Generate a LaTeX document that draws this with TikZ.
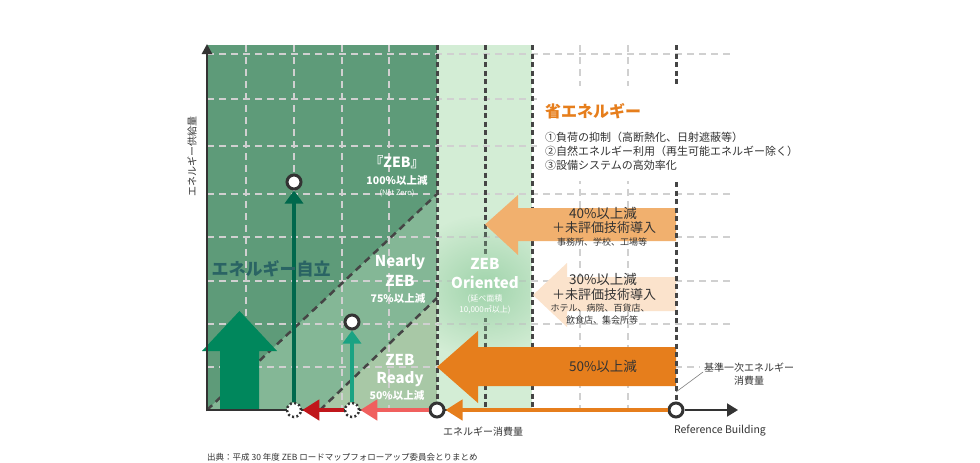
\documentclass[tikz,border=0pt]{standalone}
\usepackage{fontspec}
\setmainfont{Noto Sans CJK JP}
\usetikzlibrary{arrows.meta,calc,fadings}
\definecolor{zebdark}{HTML}{5E9B79}
\definecolor{zebmid}{HTML}{84B796}
\definecolor{zeblight}{HTML}{A8C8A6}
\definecolor{zebband}{HTML}{D3EDD5}
\definecolor{gridlt}{HTML}{D0D0D0}
\definecolor{griddk}{HTML}{454545}
\definecolor{bigup}{HTML}{00875C}
\definecolor{upline}{HTML}{00684C}
\definecolor{zteal}{HTML}{1AA383}
\definecolor{zred}{HTML}{C0161B}
\definecolor{zpink}{HTML}{F0605E}
\definecolor{zorange}{HTML}{E67E1C}
\definecolor{zorangeL}{HTML}{F1B06E}
\definecolor{zorangeXL}{HTML}{FBE3CC}
\definecolor{txt}{HTML}{333333}
\definecolor{jiritsu}{HTML}{2A6464}
\definecolor{halo}{HTML}{8FCB9D}
\tikzfading[name=softglow, inner color=transparent!25, outer color=transparent!100]
\tikzset{
  fs/.style={font=\fontsize{#1}{#1}\selectfont},
  fsb/.style={font=\fontsize{#1}{#1}\selectfont\bfseries},
  ltgrid/.style={draw=gridlt, line width=1.3pt, dash pattern=on 7pt off 5pt},
  dkgrid/.style={draw=griddk, line width=3pt, dash pattern=on 5pt off 3.5pt},
  diagline/.style={draw=griddk, line width=2.5pt, dash pattern=on 7pt off 5pt},
  ringnode/.style={circle, draw=txt, line width=3pt, fill=white, minimum size=14pt, inner sep=0pt},
  dotnode/.style={circle, draw=txt, line width=2.5pt, dash pattern=on 2pt off 2.4pt, fill=white, minimum size=14pt, inner sep=0pt},
  hconn/.style={line width=4.5pt, -{Triangle[length=17pt,width=20pt]}},
  vconn/.style={line width=3.5pt, -{Triangle[length=13pt,width=18pt]}},
  wlabel/.style={text=white, align=center},
  dlabel/.style={text=txt, align=center},
}
\begin{document}
\begin{tikzpicture}[x=1pt,y=-1pt, every node/.style={inner sep=0pt}]
\useasboundingbox (0,0) rectangle (980,463);
\fill[white] (0,0) rectangle (980,463);
% regions
\fill[zebdark] (207,45) rectangle (437,410);
\fill[zebmid] (207,410) -- (437,194) -- (437,410) -- cycle;
\fill[zeblight] (320,410) -- (437,298) -- (437,410) -- cycle;
\fill[zebband] (437,45) rectangle (532,410);
% light grid
\foreach \x in {246,294,342,389,580,628} \draw[ltgrid] (\x,45) -- (\x,410);
\foreach \y in {54,99,146,194,237,281,324} \draw[ltgrid] (207,\y) -- (733,\y);
\draw[ltgrid] (207,367) -- (700,367);
% diagonals
\draw[diagline] (207,410) -- (437,194);
\draw[diagline] (320,410) -- (437,298);
% dark dashed verticals
\foreach \x in {437,485,532} \draw[dkgrid] (\x,45) -- (\x,410);
% soft glow behind ZEB Oriented
\fill[zebband] (462,255) rectangle (508,318);
\begin{scope}
\clip (439,45) rectangle (530,410);
\fill[halo, path fading=softglow] (485,287) ellipse [x radius=84, y radius=72];
\end{scope}
% text box background
\fill[white] (537,86) rectangle (790,181);
% big orange arrows
\fill[zorangeL] (676,208) -- (518,208) -- (518,195) -- (485,224.5) -- (518,255) -- (518,241) -- (676,241) -- cycle;
\fill[zorangeXL] (676,277) -- (567,277) -- (567,263) -- (533,295) -- (567,327) -- (567,311) -- (676,311) -- cycle;
\fill[zorange] (676,347) -- (478,347) -- (478,331) -- (437,367) -- (478,403) -- (478,386) -- (676,386) -- cycle;
\draw[dkgrid] (676,45) -- (676,86);
\draw[dkgrid] (676,182) -- (676,410);
% big up arrow
\fill[bigup] (220,410) -- (220,351) -- (202,351) -- (239.5,311) -- (277,351) -- (259,351) -- (259,410) -- cycle;
% axes
\coordinate (orig) at (207,410);
\coordinate (ytop) at (207,44);
\coordinate (xend) at (738,410);
\draw[txt, line width=2.7pt] (orig) -- (676,410);
\draw[txt, line width=2.5pt, -{Triangle[length=10pt,width=10pt]}] (207,411.3) -- (ytop);
% circles
\node[dotnode] (d294) at (294,410) {};
\node[dotnode] (d352) at (352,410) {};
\node[ringnode] (c437) at (437,410) {};
\node[ringnode] (c676) at (676,410) {};
\node[ringnode] (top294) at (294,182) {};
\node[ringnode] (top352) at (352,322) {};
% connectors
\draw[txt, line width=2pt, -{Triangle[length=11pt,width=13pt]}] (c676) -- (xend);
\draw[hconn, zorange] (c676) -- (c437);
\draw[hconn, zpink] (c437) -- (d352);
\draw[hconn, zred] (d352) -- (d294);
\draw[vconn, upline] (d294) -- (top294);
\draw[vconn, zteal] (d352) -- (top352);
% texts: axis labels
\node[fs=10, text=txt, rotate=90] (ylab) at (192,156) {エネルギー供給量};
\node[fs=10, text=txt] (xlab) at (483,432) {エネルギー消費量};
\node[fs=10.5, text=txt] (reflab) at (720,431) {Reference Building};
\node[fs=10, text=txt, align=center, fill=white, inner sep=1pt] (kijun) at (749,374) {基準一次エネルギー\\[3pt]消費量};
\coordinate (lead1) at (676,392);
\coordinate (lead2) at (703,372);
\draw[gray, line width=0.6pt] (lead1) -- (lead2);
\node[fs=8.5, text=txt, anchor=west] (source) at (207,457) {出典：平成 30 年度 ZEB ロードマップフォローアップ委員会とりまとめ};
% energy saving text
\node[fsb=16, text=zorange, anchor=west] (shoene) at (545,111) {省エネルギー};
\node[fs=11, text=txt, anchor=west] (item1) at (545,137) {①負荷の抑制（高断熱化、日射遮蔽等）};
\node[fs=11, text=txt, anchor=west] (item2) at (545,151) {②自然エネルギー利用（再生可能エネルギー除く）};
\node[fs=11, text=txt, anchor=west] (item3) at (545,165) {③設備システムの高効率化};
% arrow texts
\node[fs=13.5, dlabel] (a40) at (603,213) {40\%以上減};
\node[fs=13, dlabel] (a40b) at (604,228) {＋未評価技術導入};
\node[fs=9, dlabel] (a40c) at (602,242) {事務所、学校、工場等};
\node[fs=13.5, dlabel] (a30) at (603,279) {30\%以上減};
\node[fs=13, dlabel] (a30b) at (604,295) {＋未評価技術導入};
\node[fs=9, dlabel] (a30c) at (600,308) {ホテル、病院、百貨店、};
\node[fs=9, dlabel] (a30d) at (602,320) {飲食店、集会所等};
\node[fs=13.5, dlabel] (a50) at (603,366) {50\%以上減};
% ZEB labels
\node[fsb=14, wlabel] (zeb) at (397,162) {『ZEB』};
\node[fsb=10.5, wlabel] (zeb100) at (397,181) {100\%以上減};
\node[fs=7.5, wlabel] (netzero) at (397,193) {(Net Zero)};
\node[fsb=15, wlabel] (nearly) at (400,262) {Nearly};
\node[fsb=15, wlabel] (nearlyzeb) at (400,281) {ZEB};
\node[fsb=10.5, wlabel] (zeb75) at (398,299) {75\%以上減};
\node[fsb=15, wlabel] (readyzeb) at (400,360) {ZEB};
\node[fsb=15, wlabel] (ready) at (400,379) {Ready};
\node[fsb=10.5, wlabel] (zeb50) at (397,396) {50\%以上減};
% ZEB Oriented
\node[fsb=15, wlabel] (ori1) at (485,264) {ZEB};
\node[fsb=15, wlabel] (ori2) at (485,282) {Oriented};
\node[fs=8, wlabel] (ori3) at (485,299) {(延べ面積};
\node[fs=8, wlabel] (ori4) at (485,310) {10,000㎡以上)};
% energy independence
\node[fsb=17, text=jiritsu] (jiritsu) at (271,269) {エネルギー自立};
\end{tikzpicture}
\end{document}
